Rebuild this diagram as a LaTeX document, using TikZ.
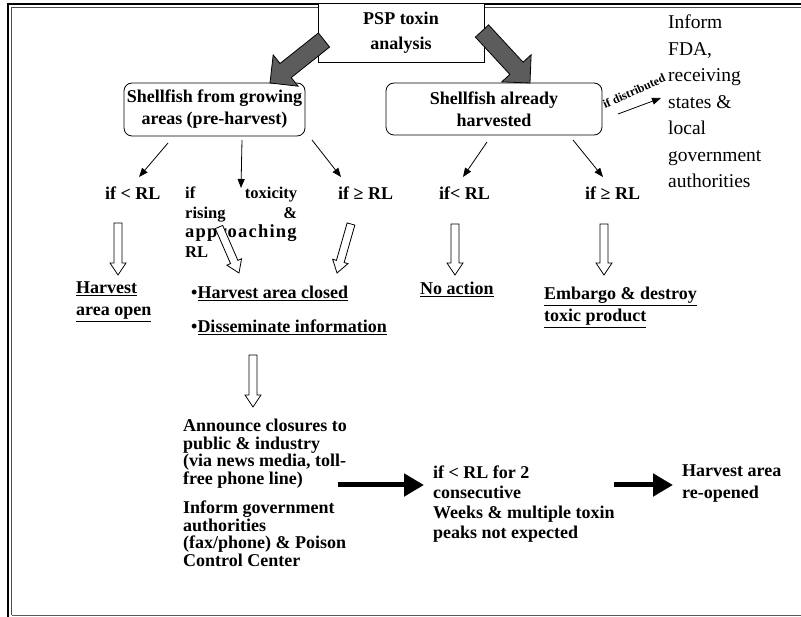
\documentclass[tikz,border=0pt]{standalone}
\usepackage{fontspec}
\setmainfont{Liberation Serif}
\usetikzlibrary{arrows.meta,calc,positioning}

% block arrow: tail, tip, shaft half width, head half width, head length, style
\newcommand{\blockarrow}[6]{%
  \coordinate (hb) at ($(#2)!#5!(#1)$);
  \draw[#6] ($(#1)!#3!90:(#2)$) -- ($(hb)!#3!90:(#2)$) -- ($(hb)!#4!90:(#2)$)
    -- (#2) -- ($(hb)!#4!-90:(#2)$) -- ($(hb)!#3!-90:(#2)$) -- ($(#1)!#3!-90:(#2)$) -- cycle;}

\tikzset{
  box/.style={
    draw,
    rounded corners=8pt,
    fill=white,
    line width=0.8pt,
    inner sep=0pt,
    align=center,
    font=\fontsize{18}{22}\selectfont\bfseries
  },
  topbox/.style={
    box,
    rounded corners=0pt,
    font=\fontsize{18}{25}\selectfont\bfseries
  },
  lbl/.style={
    inner sep=0pt,
    align=left,
    font=\fontsize{18}{22}\selectfont\bfseries
  },
  note/.style={
    inner sep=0pt,
    align=left,
    font=\fontsize{19.5}{26.5}\selectfont
  },
  thin arrow/.style={-{Triangle[length=9pt,width=7pt]}, line width=0.8pt},
  fat arrow/.style={-{Triangle[length=20pt,width=22pt]}, line width=5pt},
  hollow/.style={draw, fill=white, line width=0.8pt},
  gray block/.style={draw, fill=black!64, line width=0.8pt}
}

\begin{document}
\begin{tikzpicture}[x=1pt,y=-1pt]
  \useasboundingbox (0,0) rectangle (801,617);

  % Frame
  \draw[line width=1.2pt] (8,617) -- (8,4) -- (801,4);
  \draw[line width=1.2pt, black!70] (11.5,615) -- (11.5,7.5) -- (801,7.5);
  \draw[line width=1.6pt, black!65] (11.5,615.5) -- (801,615.5);

  % Analysis and the two kinds of shellfish
  \node[topbox, minimum width=166pt, minimum height=59pt] (psp) at (401,32.5) {PSP toxin\\analysis};
  \node[box, minimum width=181pt, minimum height=53pt] (grow) at (214.5,109.5) {Shellfish from growing\\areas (pre-harvest)};
  \node[box, minimum width=216pt, minimum height=52pt] (harv) at (494,109) {Shellfish already\\harvested};

  \coordinate (gl0) at (324,40);
  \coordinate (gl1) at (270,83);
  \coordinate (gr0) at (482,31);
  \coordinate (gr1) at (530,83);
  \blockarrow{gl0}{gl1}{9pt}{20pt}{20pt}{gray block}
  \blockarrow{gr0}{gr1}{9pt}{20pt}{20pt}{gray block}

  % Distributed product
  \node[lbl, font=\fontsize{12}{12}\selectfont\bfseries, rotate=24] (distr) at (634,91) {if distributed};
  \coordinate (d0) at (618,114);
  \coordinate (d1) at (661,98);
  \draw[thin arrow] (d0) -- (d1);
  \node[note, anchor=north west] (inform) at (668,15) {Inform\\FDA,\\receiving\\states \&\\local\\government\\authorities};

  % Branches
  \coordinate (b1s) at (168,143);
  \coordinate (b1e) at (139,177);
  \coordinate (b2s) at (242,140);
  \coordinate (b2e) at (241,188);
  \coordinate (b3s) at (312,140);
  \coordinate (b3e) at (341,177);
  \coordinate (b4s) at (487,142);
  \coordinate (b4e) at (463,177);
  \coordinate (b5s) at (573,140);
  \coordinate (b5e) at (603,177);
  \draw[thin arrow] (b1s) -- (b1e);
  \draw[thin arrow] (b2s) -- (b2e);
  \draw[thin arrow] (b3s) -- (b3e);
  \draw[thin arrow] (b4s) -- (b4e);
  \draw[thin arrow] (b5s) -- (b5e);

  \node[lbl, anchor=west] (lt1) at (105,193) {if < RL};
  \node[lbl, anchor=north west, font=\fontsize{16.5}{19.5}\selectfont\bfseries] (rise) at (185,187)
    {\makebox[112pt][l]{if\hfill toxicity}\\\makebox[112pt][l]{rising\hfill\&}\\{\fontsize{18.5}{19.5}\selectfont\addfontfeature{LetterSpace=6.5}approaching}\\RL};
  \node[lbl, anchor=west] (ge1) at (338,193) {if ≥ RL};
  \node[lbl, anchor=west] (lt2) at (439,193) {if< RL};
  \node[lbl, anchor=west] (ge2) at (585,193) {if ≥ RL};

  % Outcomes
  \node[lbl, anchor=north west] (open) at (76,282) {\underline{Harvest}\\\underline{area open}};
  \node[lbl, anchor=west] (closed) at (191,293) {\textbullet\underline{Harvest area closed}};
  \node[lbl, anchor=west] (dissem) at (191,327) {\textbullet\underline{Disseminate information}};
  \node[lbl, anchor=west] (noact) at (420,289) {\underline{No action}};
  \node[lbl, anchor=north west] (embargo) at (544,287) {\underline{Embargo \& destroy}\\\underline{toxic product}};

  \coordinate (h1s) at (118,223);
  \coordinate (h1e) at (118,275);
  \coordinate (h2s) at (219,227);
  \coordinate (h2e) at (239,273);
  \coordinate (h3s) at (351,224);
  \coordinate (h3e) at (337,273);
  \coordinate (h4s) at (455,224);
  \coordinate (h4e) at (455,275);
  \coordinate (h5s) at (604,224);
  \coordinate (h5e) at (604,275);
  \coordinate (h6s) at (253,355);
  \coordinate (h6e) at (253,407);
  \blockarrow{h1s}{h1e}{4pt}{8pt}{12pt}{hollow}
  \blockarrow{h2s}{h2e}{4pt}{8pt}{12pt}{hollow}
  \blockarrow{h3s}{h3e}{4pt}{8pt}{12pt}{hollow}
  \blockarrow{h4s}{h4e}{4pt}{8pt}{12pt}{hollow}
  \blockarrow{h5s}{h5e}{4pt}{8pt}{12pt}{hollow}
  \blockarrow{h6s}{h6e}{4pt}{8pt}{12pt}{hollow}

  % Closure and re-opening
  \node[lbl, anchor=north west, font=\fontsize{18}{17.5}\selectfont\bfseries] (announce) at (183,419)
    {Announce closures to\\public \& industry\\(via news media, toll-\\free phone line)};
  \node[lbl, anchor=north west, font=\fontsize{18}{17.5}\selectfont\bfseries] (informgov) at (183,501)
    {Inform government\\authorities\\(fax/phone) \& Poison\\Control Center};
  \node[lbl, anchor=north west, font=\fontsize{18}{20}\selectfont\bfseries] (weeks) at (433,466)
    {if < RL for 2\\consecutive\\Weeks \& multiple toxin\\peaks not expected};
  \node[lbl, anchor=north west] (reopen) at (682,465) {Harvest area\\re-opened};

  \coordinate (k0) at (338,485);
  \coordinate (k1) at (424,485);
  \coordinate (k2) at (614,485);
  \coordinate (k3) at (673,485);
  \draw[fat arrow] (k0) -- (k1);
  \draw[fat arrow] (k2) -- (k3);
\end{tikzpicture}
\end{document}
